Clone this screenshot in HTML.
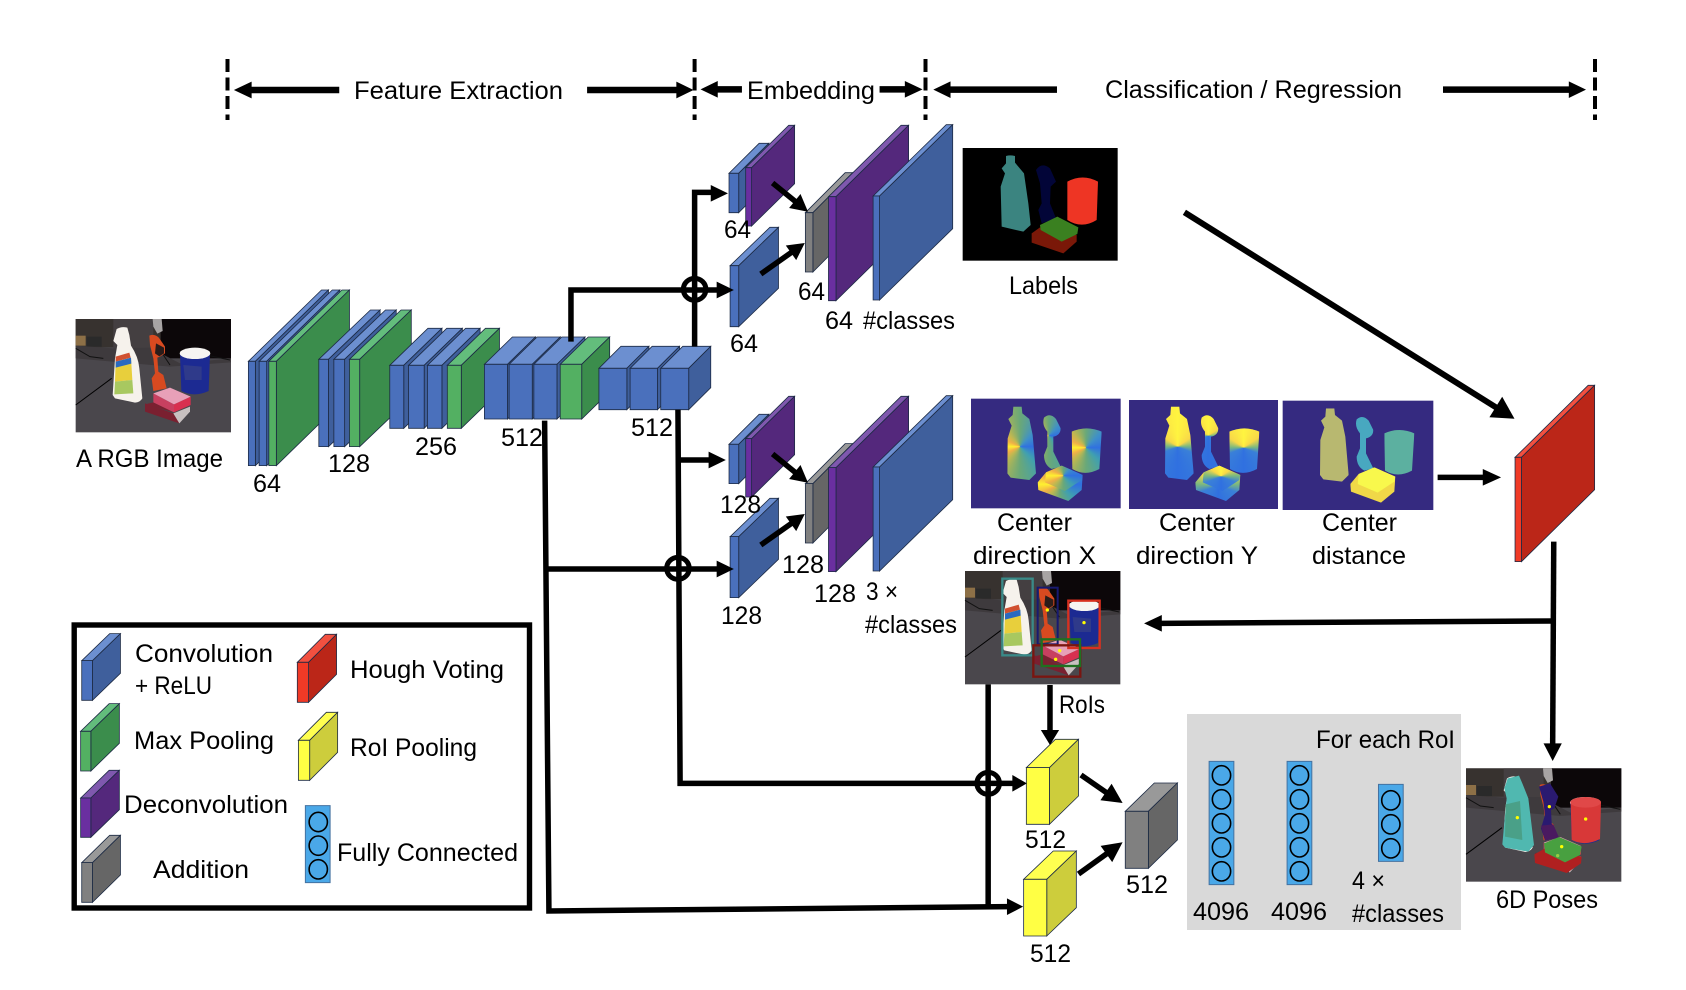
<!DOCTYPE html>
<html>
<head>
<meta charset="utf-8">
<style>
html,body{margin:0;padding:0;background:#fff;width:1686px;height:990px;overflow:hidden;position:relative}
svg{display:block;position:absolute;left:0;top:0}
#c{position:absolute;left:970px;top:395px;width:1440px;height:360px;transform:scale(.33333);transform-origin:0 0}
#c div{position:absolute}
.bg{background:#352a80}
.ob{left:0;top:0;width:460px;height:345px}
.s1{clip-path:path("M130,35 L155,35 L157,55 L178,72 L188,120 L198,235 L178,255 L122,248 L112,235 L113,130 L125,92 L115,72 L128,60Z")}
.s2{clip-path:path("M222,68 Q240,52 258,72 L272,100 Q272,120 250,125 L250,170 L272,215 L245,222 Q222,210 222,180 L232,155 L232,110 Q215,90 222,68Z")}
.s3{clip-path:path("M305,110 Q350,90 395,110 L388,222 Q345,245 307,222Z")}
.s4{clip-path:path("M203,262 L228,232 L275,212 L338,240 L335,285 L295,318 L205,285Z")}
.s5{clip-path:path("M228,232 L275,212 L338,240 L335,255 L285,288 L225,262Z")}
.x{--g:#6aa878 0deg,#3f90c8 45deg,#3070e0 90deg,#40a0b0 135deg,#6aa878 180deg,#c0b850 225deg,#f0b048 245deg,#fff030 270deg,#f0b048 295deg,#c0b850 320deg,#6aa878 360deg}
.y{--g:#fff440 0deg,#f8d848 55deg,#7ab880 88deg,#3a80d8 112deg,#3070e0 180deg,#3a80d8 248deg,#7ab880 272deg,#f8d848 305deg,#fff440 360deg}
text{font-family:"Liberation Sans",sans-serif;font-size:25px;fill:#000}
.z path,.z rect.o,.z ellipse,.z line,.z polyline{vector-effect:non-scaling-stroke}
.c path{stroke:#1c2a44;stroke-width:.8}
.l{fill:none;stroke:#000;stroke-width:5.5}
.bf{fill:#4a70bc}.bt{fill:#6c8fd0}.bs{fill:#3f5f9c}
.gf{fill:#53b062}.gt{fill:#63bd7c}.gs{fill:#3b8d4c}
.pf{fill:#6a2fa0}.pt{fill:#7f58ae}.ps{fill:#54287c}
.kf{fill:#808080}.kt{fill:#999}.ks{fill:#666}
.rf{fill:#f03a26}.rt{fill:#f25040}.rs{fill:#bb2618}
.yf{fill:#ffff44}.yt{fill:#ffff50}.ys{fill:#cdcd3c}
.fc{fill:#4aa8e8;stroke:#4472a0;stroke-width:1}
.fo{fill:#4aa8e8;stroke:#000;stroke-width:1.6}
</style>
</head>
<body>

<div id="c">
<div class="bg" style="left:3px;top:11px;width:449px;height:329px"></div>
<div class="bg" style="left:477px;top:15px;width:447px;height:327px"></div>
<div class="bg" style="left:938px;top:17px;width:452px;height:328px"></div>
<div style="left:0;top:0;width:460px;height:345px">
<div class="ob s1 x" style="background:conic-gradient(at 150px 155px,var(--g))"></div>
<div class="ob s2 x" style="background:conic-gradient(at 236px 122px,var(--g))"></div>
<div class="ob s3 x" style="background:conic-gradient(at 348px 158px,var(--g))"></div>
<div class="ob s4 x" style="background:conic-gradient(at 270px 268px,var(--g))"></div>
<div class="ob s5 x" style="background:conic-gradient(at 280px 242px,var(--g))"></div>
</div>
<div style="left:473px;top:0;width:460px;height:345px">
<div class="ob s1 y" style="background:conic-gradient(at 150px 155px,var(--g))"></div>
<div class="ob s2 y" style="background:conic-gradient(at 242px 122px,var(--g))"></div>
<div class="ob s3 y" style="background:conic-gradient(at 348px 158px,var(--g))"></div>
<div class="ob s4 y" style="background:conic-gradient(at 272px 270px,var(--g))"></div>
<div class="ob s5 y" style="background:conic-gradient(at 280px 244px,var(--g))"></div>
</div>
<div style="left:938px;top:5px;width:460px;height:345px">
<div class="ob s1" style="background:#b8b870"></div>
<div class="ob s2" style="background:#48a8c0"></div>
<div class="ob s3" style="background:#5cb0a0"></div>
<div class="ob s4" style="background:#f0d848"></div>
<div class="ob s5" style="background:#f8f84c"></div>
</div>
</div>

<svg xmlns="http://www.w3.org/2000/svg" width="1686" height="990" viewBox="0 0 1686 990">
<defs>
<g id="photo">
<rect x="17" y="12" width="466" height="340" fill="#4a474c"/>
<rect x="17" y="12" width="260" height="85" fill="#37322f"/>
<rect x="130" y="12" width="120" height="88" fill="#443f41"/>
<rect x="272" y="12" width="211" height="118" fill="#0c0709"/>
<rect x="17" y="62" width="30" height="30" fill="#8d7047"/>
<rect x="50" y="65" width="45" height="30" fill="#2a2a2a"/>
<polygon points="17,92 130,100 240,98 330,145 483,130 483,142 300,155 17,130" fill="#3e3a3d"/>
<path d="M17,100 L60,125 100,130 M340,125 L400,118 480,135 M280,120 L300,150" stroke="#111" stroke-width="3" fill="none"/>
<line x1="17" y1="270" x2="125" y2="190" stroke="#000" stroke-width="3"/>
<polygon points="248,12 275,12 278,48 262,56 250,35" fill="#a8a4a4"/>
<path d="M140,42 Q155,33 172,38 L178,60 L183,92 Q205,125 208,160 L217,250 Q210,262 195,263 L135,250 L128,240 L135,130 L142,90 L130,78 Q135,60 140,42Z" fill="#f6f2ec"/>
<polygon points="137,125 178,113 182,128 137,140" fill="#d05030"/>
<polygon points="137,140 183,128 187,195 135,200" fill="#e8cf3c"/>
<polygon points="137,140 183,128 184,146 137,158" fill="#2a6ac0"/>
<polygon points="135,200 187,195 190,235 133,238" fill="#a8c860"/>
<path d="M238,62 Q255,55 268,70 L285,95 L285,115 L270,125 L262,128 L265,170 L280,180 L290,220 L250,228 L245,190 L255,175 L250,130 L240,90Z" fill="#d84a20"/>
<path d="M258,85 L282,98 L282,115 L268,124 L255,115Z" fill="#2a1c1a"/>
<path d="M330,115 L420,115 416,228 Q372,248 334,228Z" fill="#1c2a92"/>
<ellipse cx="375" cy="115" rx="46" ry="17" fill="#f6f4f2"/>
<polygon points="340,150 395,155 395,195 345,195" fill="#2f3a8a"/>
<polygon points="225,265 310,295 328,325 225,290" fill="#7a2030"/>
<polygon points="310,295 360,275 360,290 328,325" fill="#c8c0c0"/>
<polygon points="250,262 312,292 312,292 225,268" fill="#7a2030"/>
<polygon points="250,235 312,268 312,292 250,262" fill="#c84060"/>
<polygon points="312,268 362,245 362,270 312,292" fill="#d83050"/>
<polygon points="250,235 300,218 362,245 312,268" fill="#e8a0b8"/>
</g>
</defs>

<!-- Photos -->
<use href="#photo" transform="translate(70,315) scale(.33333)"/>

<g transform="translate(960,140) scale(.33333)">
<rect x="8" y="24" width="465" height="338" fill="#000"/>
<path d="M138,48 Q150,44 165,48 L165,68 L192,100 L205,190 L212,255 L190,275 L125,260 L122,140 L135,100 L125,85 L138,70Z" fill="#3b8480"/>
<path d="M228,90 Q245,65 270,85 L288,125 L272,140 L270,190 L288,235 L245,250 L235,210 L245,190 L240,130Z" fill="#020538"/>
<path d="M322,125 Q368,100 414,125 L410,240 Q365,268 322,240Z" fill="#ee3524"/>
<path d="M215,280 L240,262 L350,285 L350,305 L310,340 L215,308Z" fill="#7a1808"/>
<path d="M240,255 L292,230 L355,262 L352,282 L305,305 L242,270Z" fill="#3a8020"/>
</g>

<g transform="translate(965,570) scale(.33333)">
<use href="#photo" transform="translate(-17,-9)"/>
<rect x="112" y="26" width="91" height="230" fill="none" stroke="#3a8a88" stroke-width="7"/>
<rect x="218" y="53" width="60" height="170" fill="none" stroke="#181a70" stroke-width="6"/>
<rect x="310" y="92" width="94" height="142" fill="none" stroke="#d83020" stroke-width="7"/>
<rect x="205" y="226" width="141" height="94" fill="none" stroke="#7a1510" stroke-width="7"/>
<rect x="230" y="208" width="115" height="80" fill="none" stroke="#207020" stroke-width="7"/>
<circle cx="247" cy="120" r="5" fill="#ff0"/><circle cx="357" cy="158" r="5" fill="#ff0"/><circle cx="284" cy="242" r="5" fill="#ff0"/><circle cx="272" cy="268" r="5" fill="#ff0"/>
</g>

<g transform="translate(1465,765) scale(.33333)">
<use href="#photo" transform="translate(-14,-2)"/>
<path d="M118,70 L128,40 L162,32 L172,55 L190,100 L207,240 L190,260 L120,248 L112,238 L122,130 L125,100Z" fill="#50b8b0"/>
<polygon points="122,118 165,108 172,225 120,215" fill="#4aa088"/>
<path d="M222,65 L255,55 L280,95 L268,130 L258,135 L260,175 L282,218 L240,226 L228,190 L240,150 L235,110Z" fill="#2a1a70"/>
<path d="M228,182 L265,178 L282,218 L240,226Z" fill="#4a1a60"/>
<path d="M317,112 L408,112 L405,222 Q360,245 320,225Z" fill="#d83838"/>
<ellipse cx="362" cy="112" rx="46" ry="16" fill="#e04848"/>
<path d="M208,268 L240,250 L350,275 L348,295 L305,324 L210,294Z" fill="#b02020"/>
<path d="M237,235 L282,216 L350,245 L345,270 L300,292 L240,262Z" fill="#48a040"/>
<circle cx="157" cy="158" r="5" fill="#ff0"/><circle cx="253" cy="125" r="5" fill="#ff0"/><circle cx="362" cy="162" r="5" fill="#ff0"/><circle cx="290" cy="245" r="5" fill="#ff0"/><circle cx="278" cy="272" r="5" fill="#9c4"/>
</g>

<!-- Gray panel -->
<rect x="1187" y="714" width="274" height="216" fill="#d9d9d9"/>

<g class="z" transform="scale(.53763,.33333)">
<!-- Stacks -->
<g class="c">
<path class="bt" d="M462,1084l136,-214h13l-136,214z"/><path class="bs" d="M475,1084l136,-214v313l-136,214z"/><path class="bf" d="M462,1084h13v313h-13z"/>
<path class="bt" d="M482,1084l136,-214h14l-136,214z"/><path class="bs" d="M496,1084l136,-214v313l-136,214z"/><path class="bf" d="M482,1084h14v313h-14z"/>
<path class="gt" d="M500,1084l136,-214h14l-136,214z"/><path class="gs" d="M514,1084l136,-214v313l-136,214z"/><path class="gf" d="M500,1084h14v313h-14z"/>

<path class="bt" d="M593,1078l96,-148h18l-96,148z"/><path class="bs" d="M611,1078l96,-148v262l-96,148z"/><path class="bf" d="M593,1078h18v262h-18z"/>
<path class="bt" d="M621,1078l96,-148h20l-96,148z"/><path class="bs" d="M641,1078l96,-148v262l-96,148z"/><path class="bf" d="M621,1078h20v262h-20z"/>
<path class="gt" d="M650,1078l96,-148h19l-96,148z"/><path class="gs" d="M669,1078l96,-148v262l-96,148z"/><path class="gf" d="M650,1078h19v262h-19z"/>

<path class="bt" d="M725,1096l71,-111h26l-71,111z"/><path class="bs" d="M751,1096l71,-111v189l-71,111z"/><path class="bf" d="M725,1096h26v189h-26z"/>
<path class="bt" d="M760,1096l71,-111h29l-71,111z"/><path class="bs" d="M789,1096l71,-111v189l-71,111z"/><path class="bf" d="M760,1096h29v189h-29z"/>
<path class="bt" d="M795,1096l71,-111h27l-71,111z"/><path class="bs" d="M822,1096l71,-111v189l-71,111z"/><path class="bf" d="M795,1096h27v189h-27z"/>
<path class="gt" d="M832,1096l71,-111h26l-71,111z"/><path class="gs" d="M858,1096l71,-111v189l-71,111z"/><path class="gf" d="M832,1096h26v189h-26z"/>

<path class="bt" d="M901,1093l52,-82h43l-52,82z"/><path class="bs" d="M944,1093l52,-82v164l-52,82z"/><path class="bf" d="M901,1093h43v164h-43z"/>
<path class="bt" d="M947,1093l52,-82h43l-52,82z"/><path class="bs" d="M990,1093l52,-82v164l-52,82z"/><path class="bf" d="M947,1093h43v164h-43z"/>
<path class="bt" d="M993,1093l52,-82h43l-52,82z"/><path class="bs" d="M1036,1093l52,-82v164l-52,82z"/><path class="bf" d="M993,1093h43v164h-43z"/>
<path class="gt" d="M1042,1093l52,-82h40l-52,82z"/><path class="gs" d="M1082,1093l52,-82v164l-52,82z"/><path class="gf" d="M1042,1093h40v164h-40z"/>

<path class="bt" d="M1114,1105l41,-66h52l-41,66z"/><path class="bs" d="M1166,1105l41,-66v124l-41,66z"/><path class="bf" d="M1114,1105h52v124h-52z"/>
<path class="bt" d="M1172,1105l41,-66h51l-41,66z"/><path class="bs" d="M1223,1105l41,-66v124l-41,66z"/><path class="bf" d="M1172,1105h51v124h-51z"/>
<path class="bt" d="M1229,1105l41,-66h52l-41,66z"/><path class="bs" d="M1281,1105l41,-66v124l-41,66z"/><path class="bf" d="M1229,1105h52v124h-52z"/>

<g id="emb">
<path class="bt" d="M1356,520l56,-90h18l-56,90z"/><path class="bs" d="M1374,520l56,-90v118l-56,90z"/><path class="bf" d="M1356,520h18v118h-18z"/>
<path class="pt" d="M1387,503l80,-127h11l-80,127z"/><path class="ps" d="M1398,503l80,-127v175l-80,127z"/><path class="pf" d="M1387,503h11v175h-11z"/>
<path class="bt" d="M1358,797l74,-115h16l-74,115z"/><path class="bs" d="M1374,797l74,-115v183l-74,115z"/><path class="bf" d="M1358,797h16v183h-16z"/>
<path class="kt" d="M1498,638l74,-120h14l-74,120z"/><path class="ks" d="M1512,638l74,-120v178l-74,120z"/><path class="kf" d="M1498,638h14v178h-14z"/>
<path class="pt" d="M1541,590l135,-214h14l-135,214z"/><path class="ps" d="M1555,590l135,-214v312l-135,214z"/><path class="pf" d="M1541,590h14v312h-14z"/>
<path class="bt" d="M1624,588l136,-214h12l-136,214z"/><path class="bs" d="M1636,588l136,-214v312l-136,214z"/><path class="bf" d="M1624,588h12v312h-12z"/>
</g>
<use href="#emb" transform="translate(0,813)"/>

<!-- Hough -->
<path class="rt" d="M2818,1372l136,-216h12l-136,216z"/><path class="rs" d="M2830,1372l136,-216v313l-136,216z"/><path class="rf" d="M2818,1372h12v313h-12z"/>
<!-- RoI pooling -->
<path class="yt" d="M1909,2303l54,-85h43l-54,85z"/><path class="ys" d="M1952,2303l54,-85v170l-54,85z"/><path class="yf" d="M1909,2303h43v170h-43z"/>
<path class="yt" d="M1904,2638l55,-85h43l-55,85z"/><path class="ys" d="M1947,2638l55,-85v170l-55,85z"/><path class="yf" d="M1904,2638h43v170h-43z"/>
<path class="kt" d="M2093,2434l54,-85h43l-54,85z"/><path class="ks" d="M2136,2434l54,-85v171l-54,85z"/><path class="kf" d="M2093,2434h43v171h-43z"/>
<!-- Legend cuboids -->
<path class="bt" d="M152,1982l52,-81h20l-52,81z"/><path class="bs" d="M172,1982l52,-81v119l-52,81z"/><path class="bf" d="M152,1982h20v119h-20z"/>
<path class="gt" d="M150,2194l53,-83h19l-53,83z"/><path class="gs" d="M169,2194l53,-83v119l-53,83z"/><path class="gf" d="M150,2194h19v119h-19z"/>
<path class="pt" d="M150,2394l53,-83h19l-53,83z"/><path class="ps" d="M169,2394l53,-83v118l-53,83z"/><path class="pf" d="M150,2394h19v118h-19z"/>
<path class="kt" d="M152,2588l52,-82h20l-52,82z"/><path class="ks" d="M172,2588l52,-82v119l-52,82z"/><path class="kf" d="M152,2588h20v119h-20z"/>
<path class="rt" d="M553,1987l52,-84h21l-52,84z"/><path class="rs" d="M574,1987l52,-84v120l-52,84z"/><path class="rf" d="M553,1987h21v120h-21z"/>
<path class="yt" d="M555,2221l52,-84h21l-52,84z"/><path class="ys" d="M576,2221l52,-84v120l-52,84z"/><path class="yf" d="M555,2221h21v120h-21z"/>
</g>

<!-- Fully connected bars -->
<rect class="o fc" x="2249" y="2284" width="46" height="370"/>
<ellipse class="fo" cx="2272" cy="2326" rx="17" ry="29"/><ellipse class="fo" cx="2272" cy="2398" rx="17" ry="29"/><ellipse class="fo" cx="2272" cy="2470" rx="17" ry="29"/><ellipse class="fo" cx="2272" cy="2542" rx="17" ry="29"/><ellipse class="fo" cx="2272" cy="2614" rx="17" ry="29"/>
<rect class="o fc" x="2394" y="2284" width="46" height="370"/>
<ellipse class="fo" cx="2417" cy="2326" rx="17" ry="29"/><ellipse class="fo" cx="2417" cy="2398" rx="17" ry="29"/><ellipse class="fo" cx="2417" cy="2470" rx="17" ry="29"/><ellipse class="fo" cx="2417" cy="2542" rx="17" ry="29"/><ellipse class="fo" cx="2417" cy="2614" rx="17" ry="29"/>
<rect class="o fc" x="2564" y="2353" width="46" height="231"/>
<ellipse class="fo" cx="2587" cy="2401" rx="17" ry="29"/><ellipse class="fo" cx="2587" cy="2473" rx="17" ry="29"/><ellipse class="fo" cx="2587" cy="2545" rx="17" ry="29"/>
<rect class="o fc" x="568" y="2417" width="46" height="231"/>
<ellipse class="fo" cx="592" cy="2466" rx="17" ry="29"/><ellipse class="fo" cx="592" cy="2537" rx="17" ry="29"/><ellipse class="fo" cx="592" cy="2608" rx="17" ry="29"/>

<!-- Connectors -->
<path class="l" d="M1292,1040V577H1325"/>
<path class="l" d="M1062,1025V870H1335"/>
<path class="l" d="M1261,1229L1265,2350H1885"/>
<path class="l" d="M1261,1380H1320"/>
<path class="l" d="M1015,1707H1335"/>
<path class="l" d="M1013,1262L1021,2733L1875,2720"/>
<path class="l" d="M1838,2053V2720"/>
<path class="l" d="M1953,2055V2192"/>
<path class="l" d="M2890,1625L2888,2232"/>
<path class="l" d="M2890,1863L2160,1870"/>

<ellipse cx="1292" cy="868" rx="21" ry="33" fill="none" stroke="#000" stroke-width="5"/>
<ellipse cx="1261" cy="1705" rx="21" ry="33" fill="none" stroke="#000" stroke-width="5"/>
<ellipse cx="1838" cy="2350" rx="21" ry="33" fill="none" stroke="#000" stroke-width="5"/>

<!-- Arrowheads -->
<polygon points="1354,580 1322,555 1322,605"/>
<polygon points="1365,870 1333,845 1333,895"/>
<polygon points="1350,1380 1318,1355 1318,1405"/>
<polygon points="1365,1707 1333,1682 1333,1732"/>
<polygon points="1910,2350 1883,2325 1883,2375"/>
<polygon points="1903,2720 1873,2695 1873,2745"/>
<polygon points="1953,2235 1936,2190 1970,2190"/>
<polygon points="2888,2283 2871,2230 2905,2230"/>
<polygon points="2128,1870 2161,1845 2161,1895"/>

<!-- Top arrows -->
<path class="l" style="stroke-width:6.5" d="M631,270H465M1092,270H1260M1380,268H1333M1636,268H1685M1966,269H1766M2684,269H2920"/>
<polygon points="435,270 468,245 468,295"/>
<polygon points="1290,270 1258,245 1258,295"/>
<polygon points="1303,268 1335,243 1335,293"/>
<polygon points="1716,268 1683,243 1683,293"/>
<polygon points="1736,269 1768,244 1768,294"/>
<polygon points="2950,269 2918,244 2918,294"/>

<!-- Center to Hough -->
<path class="l" d="M2674,1432H2760"/>
<polygon points="2792,1432 2758,1407 2758,1457"/>
</g>

<!-- Dashed separators -->
<g fill="none" stroke="#000" stroke-width="4" stroke-dasharray="13 5.5">
<line x1="227.5" y1="59" x2="227.5" y2="120"/>
<line x1="694.6" y1="59" x2="694.6" y2="120"/>
<line x1="925.5" y1="59" x2="925.5" y2="120"/>
<line x1="1595" y1="59" x2="1595" y2="120"/>
</g>

<!-- Legend box -->
<rect x="74.2" y="625" width="455.3" height="283" fill="none" stroke="#000" stroke-width="5.4"/>

<!-- Diagonal arrows -->
<g id="dg">
<line x1="772.6" y1="183" x2="796" y2="202" stroke="#000" stroke-width="5.5"/>
<polygon points="808,211.7 789.1,208 800.5,194"/>
<line x1="760.8" y1="274" x2="792" y2="252" stroke="#000" stroke-width="5.5"/>
<polygon points="804.8,243 796.2,260.1 785.8,245.5"/>
</g>
<use href="#dg" transform="translate(0,271)"/>
<line x1="1184.4" y1="212.3" x2="1497" y2="408" stroke="#000" stroke-width="6"/>
<polygon points="1514.5,418.7 1489.4,417.2 1502.2,396.8"/>
<line x1="1081" y1="775" x2="1107" y2="793" stroke="#000" stroke-width="5.5"/>
<polygon points="1122.6,803 1100.4,800.3 1111.6,783.7"/>
<line x1="1078.5" y1="874" x2="1107" y2="853.5" stroke="#000" stroke-width="5.5"/>
<polygon points="1122.6,842.3 1112.2,862.1 1100.6,845.9"/>

<!-- Text -->
<g>
<text x="354" y="99" textLength="209" lengthAdjust="spacingAndGlyphs">Feature Extraction</text>
<text x="747" y="99" textLength="128" lengthAdjust="spacingAndGlyphs">Embedding</text>
<text x="1105" y="98" textLength="297" lengthAdjust="spacingAndGlyphs">Classification / Regression</text>
<text x="76" y="467" textLength="147" lengthAdjust="spacingAndGlyphs">A RGB Image</text>
<text x="253" y="492" textLength="28" lengthAdjust="spacingAndGlyphs">64</text>
<text x="328" y="472" textLength="42" lengthAdjust="spacingAndGlyphs">128</text>
<text x="415" y="455" textLength="42" lengthAdjust="spacingAndGlyphs">256</text>
<text x="501" y="446" textLength="42" lengthAdjust="spacingAndGlyphs">512</text>
<text x="631" y="436" textLength="42" lengthAdjust="spacingAndGlyphs">512</text>
<text x="724" y="238" textLength="27" lengthAdjust="spacingAndGlyphs">64</text>
<text x="730" y="352" textLength="28" lengthAdjust="spacingAndGlyphs">64</text>
<text x="798" y="300" textLength="27" lengthAdjust="spacingAndGlyphs">64</text>
<text x="825" y="329" textLength="28" lengthAdjust="spacingAndGlyphs">64</text>
<text x="863" y="329" textLength="92" lengthAdjust="spacingAndGlyphs">#classes</text>
<text x="1009" y="294" textLength="69" lengthAdjust="spacingAndGlyphs">Labels</text>
<text x="720" y="513" textLength="41" lengthAdjust="spacingAndGlyphs">128</text>
<text x="721" y="624" textLength="41" lengthAdjust="spacingAndGlyphs">128</text>
<text x="782" y="573" textLength="42" lengthAdjust="spacingAndGlyphs">128</text>
<text x="814" y="602" textLength="42" lengthAdjust="spacingAndGlyphs">128</text>
<text x="866" y="600" textLength="32" lengthAdjust="spacingAndGlyphs">3 ×</text>
<text x="865" y="633" textLength="92" lengthAdjust="spacingAndGlyphs">#classes</text>
<text x="997" y="531" textLength="75" lengthAdjust="spacingAndGlyphs">Center</text>
<text x="973" y="564" textLength="123" lengthAdjust="spacingAndGlyphs">direction X</text>
<text x="1159" y="531" textLength="76" lengthAdjust="spacingAndGlyphs">Center</text>
<text x="1136" y="564" textLength="122" lengthAdjust="spacingAndGlyphs">direction Y</text>
<text x="1322" y="531" textLength="75" lengthAdjust="spacingAndGlyphs">Center</text>
<text x="1312" y="564" textLength="94" lengthAdjust="spacingAndGlyphs">distance</text>
<text x="1059" y="713" textLength="46" lengthAdjust="spacingAndGlyphs">RoIs</text>
<text x="1025" y="848" textLength="41" lengthAdjust="spacingAndGlyphs">512</text>
<text x="1030" y="962" textLength="41" lengthAdjust="spacingAndGlyphs">512</text>
<text x="1126" y="893" textLength="42" lengthAdjust="spacingAndGlyphs">512</text>
<text x="1316" y="748" textLength="139" lengthAdjust="spacingAndGlyphs">For each RoI</text>
<text x="1193" y="920" textLength="56" lengthAdjust="spacingAndGlyphs">4096</text>
<text x="1271" y="920" textLength="56" lengthAdjust="spacingAndGlyphs">4096</text>
<text x="1352" y="889" textLength="33" lengthAdjust="spacingAndGlyphs">4 ×</text>
<text x="1352" y="922" textLength="92" lengthAdjust="spacingAndGlyphs">#classes</text>
<text x="1496" y="908" textLength="102" lengthAdjust="spacingAndGlyphs">6D Poses</text>
<text x="135" y="662" textLength="138" lengthAdjust="spacingAndGlyphs">Convolution</text>
<text x="135" y="694" textLength="77" lengthAdjust="spacingAndGlyphs">+ ReLU</text>
<text x="350" y="678" textLength="154" lengthAdjust="spacingAndGlyphs">Hough Voting</text>
<text x="134" y="749" textLength="140" lengthAdjust="spacingAndGlyphs">Max Pooling</text>
<text x="350" y="756" textLength="127" lengthAdjust="spacingAndGlyphs">RoI Pooling</text>
<text x="124" y="813" textLength="164" lengthAdjust="spacingAndGlyphs">Deconvolution</text>
<text x="337" y="861" textLength="181" lengthAdjust="spacingAndGlyphs">Fully Connected</text>
<text x="153" y="878" textLength="96" lengthAdjust="spacingAndGlyphs">Addition</text>
</g>
</svg>
</body>
</html>
